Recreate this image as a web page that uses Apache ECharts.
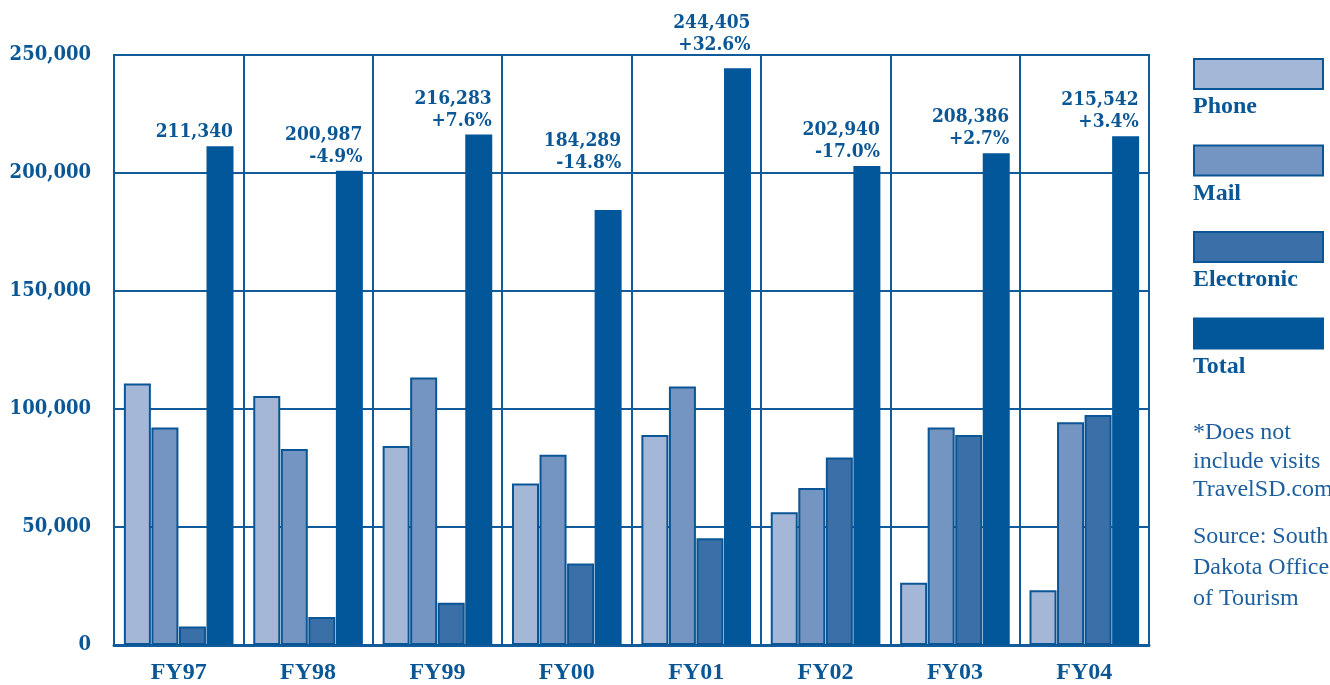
<!DOCTYPE html>
<html>
<head>
<meta charset="utf-8">
<script src="https://cdn.jsdelivr.net/npm/echarts@6/dist/echarts.min.js"></script>
<style>
  html, body { margin: 0; padding: 0; background: #ffffff; }
  #chart { width: 1330px; height: 685px; }
</style>
</head>
<body>
<div id="chart"></div>
<script>
// Inquiries by fiscal year and channel
const categories = ['FY97', 'FY98', 'FY99', 'FY00', 'FY01', 'FY02', 'FY03', 'FY04'];
const phone      = [110800, 105500, 84300, 68400, 89000, 56200, 26400, 23200];
const mail       = [92200, 83000, 113400, 80600, 109500, 66500, 92200, 94400];
const electronic = [7800, 11900, 17900, 34500, 45200, 79400, 89000, 97500];
const total      = [211340, 200987, 216283, 184289, 244405, 202940, 208386, 215542];
const totalChange = ['', '-4.9%', '+7.6%', '-14.8%', '+32.6%', '-17.0%', '+2.7%', '+3.4%'];
const seriesNames = ['Phone', 'Mail', 'Electronic', 'Total'];
const footnoteLines = ['*Does not', 'include visits', 'TravelSD.com'];
const sourceLines = ['Source: South', 'Dakota Office', 'of Tourism'];

const INK = '#0b5796';
const LINE = '#115b9a';
const FILLS = ['#a5b7d7', '#7495c2', '#3a6fa8', '#02569a'];
const SERIF = '"Liberation Serif", "DejaVu Serif", serif';
const SERIF_WIDE = '"DejaVu Serif Condensed", "DejaVu Serif", serif';

const fmt = v => String(v).replace(/\B(?=(\d{3})+(?!\d))/g, ',');

const chart = echarts.init(document.getElementById('chart'), null, { renderer: 'canvas' });

// some total labels are lifted clear of the gridlines / frame
const liftedLabel = { 3: 33, 4: 9 };

function barSeries(name, data, idx) {
  const isTotal = idx === 3;
  const s = {
    name: name,
    type: 'bar',
    data: isTotal
      ? data.map((v, i) => liftedLabel[i] ? { value: v, label: { offset: [13, -liftedLabel[i]] } } : v)
      : data,
    barWidth: 27,
    barGap: '2%',
    itemStyle: {
      color: FILLS[idx],
      borderColor: isTotal ? FILLS[idx] : '#0a5595',
      borderWidth: 2
    },
    emphasis: { disabled: true },
    animation: false
  };
  if (isTotal) {
    s.label = {
      show: true,
      position: 'top',
      align: 'right',
      distance: 3,
      offset: [13, 0],
      color: INK,
      fontFamily: SERIF_WIDE,
      fontWeight: 'bold',
      fontSize: 19,
      lineHeight: 22,
      formatter: p => fmt(p.value) + (totalChange[p.dataIndex] ? '\n' + totalChange[p.dataIndex] : '')
    };
  }
  return s;
}

// Legend swatches and footnotes on the right
const graphics = [];
const legendTop = 58, legendStep = 86.5;
seriesNames.forEach((n, i) => {
  const y = legendTop + i * legendStep;
  graphics.push({
    type: 'rect',
    left: 1193, top: y,
    shape: { width: 129, height: 30 },
    style: { fill: FILLS[i], stroke: i === 3 ? FILLS[i] : '#0a5595', lineWidth: 2 },
    silent: true
  });
  graphics.push({
    type: 'text',
    left: 1193, top: y + 37,
    style: { text: n, fill: INK, font: 'bold 24px ' + SERIF },
    silent: true
  });
});
footnoteLines.forEach((t, i) => {
  graphics.push({
    type: 'text', left: 1193, top: 421 + i * 28.5,
    style: { text: t, fill: '#1d5f9e', font: '24px ' + SERIF }, silent: true
  });
});
sourceLines.forEach((t, i) => {
  graphics.push({
    type: 'text', left: 1193, top: 525 + i * 30.7,
    style: { text: t, fill: '#1d5f9e', font: '24px ' + SERIF }, silent: true
  });
});

chart.setOption({
  animation: false,
  backgroundColor: '#ffffff',
  grid: {
    left: 114, right: 181, top: 55, bottom: 40,
    show: true, borderColor: LINE, borderWidth: 2,
    containLabel: false
  },
  xAxis: {
    type: 'category',
    data: categories,
    axisTick: { show: false },
    axisLine: { lineStyle: { color: LINE, width: 3 } },
    splitLine: { show: true, lineStyle: { color: LINE, width: 2 } },
    axisLabel: {
      color: INK, fontFamily: SERIF, fontWeight: 'bold', fontSize: 24, margin: 16
    }
  },
  yAxis: {
    type: 'value',
    min: 0, max: 250000, interval: 50000,
    axisLine: { show: true, lineStyle: { color: LINE, width: 2 } },
    axisTick: { show: false },
    splitLine: { lineStyle: { color: LINE, width: 2 } },
    axisLabel: {
      color: INK, fontFamily: SERIF_WIDE, fontWeight: 'bold', fontSize: 20, margin: 23,
      formatter: v => fmt(v)
    }
  },
  series: [
    barSeries(seriesNames[0], phone, 0),
    barSeries(seriesNames[1], mail, 1),
    barSeries(seriesNames[2], electronic, 2),
    barSeries(seriesNames[3], total, 3)
  ],
  graphic: graphics
});
</script>
</body>
</html>
